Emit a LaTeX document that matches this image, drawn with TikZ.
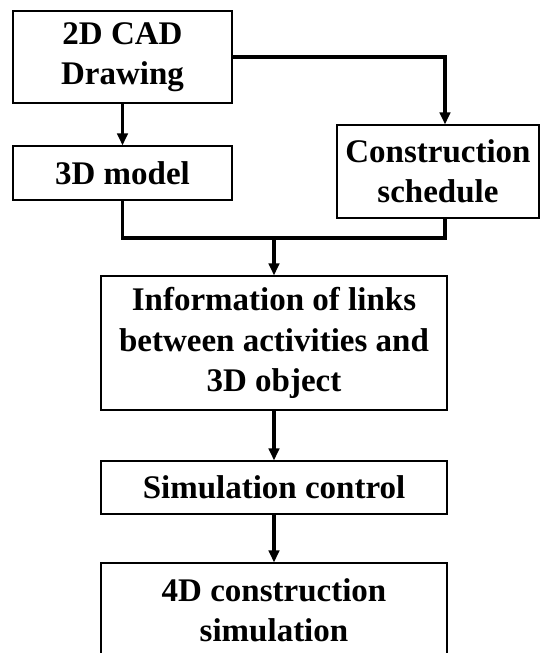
\documentclass[tikz,border=0pt]{standalone}
\usepackage{fontspec}
\setmainfont{Liberation Serif}
\usetikzlibrary{arrows.meta,calc}
\begin{document}
\begin{tikzpicture}[x=1pt,y=-1pt,
  box/.style={draw,line width=1.2pt,align=center,inner sep=0pt,
    font=\fontsize{33}{40.5}\selectfont\bfseries},
  conn/.style={line width=3.5pt},
  arr/.style={conn,-{Triangle[length=12pt,width=10.5pt]}}]
\useasboundingbox (0,0) rectangle (545,653);
\clip (0,0) rectangle (545,653);
\node[box,minimum width=219pt,minimum height=92pt] (b1) at (122.5,57) {2D CAD\\Drawing};
\node[box,minimum width=219pt,minimum height=54pt] (b2) at (122.5,173) {3D model};
\node[box,minimum width=202pt,minimum height=93pt] (b3) at (438,171.5) {Construction\\schedule};
\node[box,minimum width=346pt,minimum height=134pt] (b4) at (274,343) {Information of links\\between activities and\\3D object};
\node[box,minimum width=346pt,minimum height=53pt] (b5) at (274,487.5) {Simulation control};
\node[box,minimum width=346pt,minimum height=94pt] (b6) at (274,610) {4D construction\\simulation};
\coordinate (rx) at (445,0);
\coordinate (my) at (0,238);
\draw[arr] (b1) -- (b2);
\draw[arr] (b1.east) -| (rx |- b3.north);
\draw[conn] (b2.south) |- (my -| rx) -- (rx |- b3.south);
\draw[arr] (my -| b4.north) -- (b4.north);
\draw[arr] (b4) -- (b5);
\draw[arr] (b5) -- (b6);
\end{tikzpicture}
\end{document}
